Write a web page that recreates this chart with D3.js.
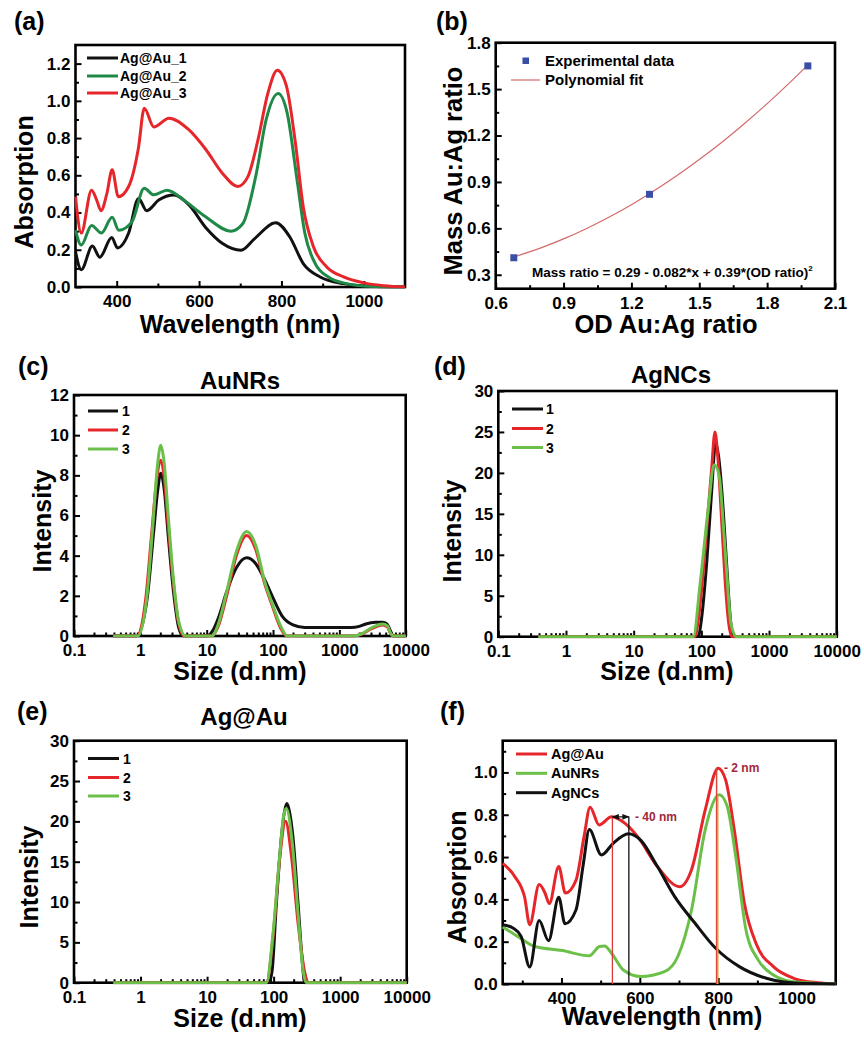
<!DOCTYPE html>
<html><head><meta charset="utf-8">
<script src="https://cdn.jsdelivr.net/npm/d3@7"></script>
<style>body{margin:0;background:#fff}</style>
</head><body>
<svg id="c" width="864" height="1037" xmlns="http://www.w3.org/2000/svg"></svg>
<script>
// ---------- DATA ----------
// (a) UV-vis of Ag@Au samples
const waveA1 = [300,314,341,359,388,402,429,453,473,502,539,576,616,657,702,735,786,820,853,894,951,1000,1100];
const absA1  = [0.19,0.093,0.22,0.16,0.266,0.21,0.29,0.476,0.41,0.467,0.494,0.44,0.32,0.234,0.198,0.26,0.345,0.27,0.126,0.054,0.018,0.006,0];
const waveA2 = [300,314,339,363,389,405,437,467,490,522,567,616,677,706,739,763,792,814,837,857,882,914,959,1008,1100];
const absA2  = [0.305,0.225,0.33,0.29,0.375,0.305,0.35,0.53,0.495,0.52,0.46,0.377,0.30,0.34,0.61,0.90,1.04,0.934,0.59,0.287,0.126,0.054,0.018,0.004,0];
const waveA3 = [300,314,339,351,362,376,389,404,429,453,467,490,527,575,616,657,694,718,743,767,790,812,833,853,878,910,951,1000,1049,1100];
const absA3  = [0.485,0.29,0.52,0.47,0.41,0.50,0.63,0.485,0.54,0.75,0.96,0.86,0.907,0.845,0.74,0.61,0.54,0.59,0.79,1.04,1.164,1.08,0.79,0.43,0.215,0.108,0.054,0.022,0.007,0];
const seriesA = ["Ag@Au_1","Ag@Au_2","Ag@Au_3"];

// (b) mass ratio vs OD ratio
const odRatio   = [0.68, 1.28, 1.98];
const massRatio = [0.41, 0.82, 1.65];
const fitX = [0.68,0.8,0.9,1.0,1.1,1.2,1.3,1.4,1.5,1.6,1.7,1.8,1.9,1.98];
const fitY = [0.415,0.474,0.532,0.598,0.672,0.753,0.843,0.940,1.045,1.157,1.278,1.406,1.542,1.657];
const legendB = ["Experimental data","Polynomial fit"];
const equationB = "Mass ratio = 0.29 - 0.082*x + 0.39*(OD ratio)";

// (c) DLS AuNRs
const sizeC1 = [0.39,0.88,1.26,1.58,1.82,2.03,2.29,2.63,3.16,3.8,4.47,10,12,15,20,28,40,55,75,100,140,200,300,1500,2000,2500,3500,4500,5200,6000,6500,10000];
const intC1  = [0,0,1.8,5.1,7.2,8.1,7.3,5.0,2.2,0.4,0,0,0.2,0.9,2.2,3.4,3.9,3.6,2.8,1.9,0.95,0.55,0.42,0.42,0.48,0.6,0.68,0.68,0.6,0.2,0,0];
const sizeC2 = [0.39,0.88,1.2,1.5,1.78,2.03,2.29,2.63,3.16,3.8,4.6,12,15,20,28,40,55,75,100,130,160,1600,2200,3000,4500,5300,6000,6500,10000];
const intC2  = [0,0,1.8,5.3,7.9,8.75,7.9,5.5,2.6,0.6,0,0,0.5,2.0,4.0,5.0,4.3,2.6,1.4,0.4,0,0,0.1,0.35,0.55,0.45,0.1,0,0];
const sizeC3 = [0.39,0.92,1.25,1.55,1.8,2.03,2.29,2.63,3.16,3.8,4.8,12,15,20,28,40,55,75,100,130,165,1600,2200,3000,4500,5300,6000,6600,10000];
const intC3  = [0,0,1.9,5.6,8.4,9.5,8.6,6.0,2.8,0.7,0,0,0.6,2.2,4.2,5.2,4.5,2.7,1.5,0.5,0,0,0.12,0.4,0.6,0.5,0.1,0,0];

// (d) DLS AgNCs
const sizeD1 = [0.39,90,100,120,140,163,180,200,236,270,295,10000];
const intD1  = [0,0,2,9,17,23.6,22,18,9,2,0,0];
const sizeD2 = [0.39,80,90,107,125,142,159,175,200,224,255,280,10000];
const intD2  = [0,0,2,8.1,15,20.5,25,22,14,7,1.5,0,0];
const sizeD3 = [0.39,76,96,126,155,185,210,236,275,330,10000];
const intD3  = [0,0,6.5,15.5,21,19.5,14,8.1,1.5,0,0];

// (e) DLS Ag@Au
const sizeE1 = [0.39,85,95,110,134,159,175,195,233,276,290,10000];
const intE1  = [0,0,1.5,9.8,18.9,22.2,21,18.1,9.8,1.6,0,0];
const sizeE2 = [0.39,78,98,124,151,186,233,295,330,10000];
const intE2  = [0,0,5.7,15.6,20,15.6,7.4,1.2,0,0];
const sizeE3 = [0.39,78,98,124,142,155,191,233,276,310,10000];
const intE3  = [0,0,6.1,16,20.8,21.6,17.3,8.6,1.6,0,0];
const seriesDLS = ["1","2","3"];

// (f) UV-vis comparison
const waveF1 = [250,280,306,319,343,358,369,393,410,437,458,473,496,528,554,593,645,702,732,767,800,819,841,867,897,941,993,1054,1100];
const absF1  = [0.57,0.51,0.41,0.28,0.47,0.43,0.38,0.555,0.43,0.49,0.70,0.836,0.752,0.79,0.77,0.70,0.555,0.46,0.54,0.823,1.02,0.965,0.73,0.38,0.19,0.082,0.027,0.006,0];
const waveF2 = [250,289,332,402,471,497,510,528,558,602,663,697,732,767,803,823,845,871,902,941,993,1100];
const absF2  = [0.27,0.224,0.177,0.158,0.133,0.177,0.18,0.145,0.066,0.035,0.058,0.13,0.35,0.73,0.894,0.84,0.60,0.255,0.114,0.043,0.011,0];
const waveF3 = [250,276,297,319,343,367,393,409,437,456,471,502,532,571,602,645,689,741,793,854,923,1010,1100];
const absF3  = [0.28,0.265,0.225,0.08,0.30,0.205,0.41,0.285,0.35,0.57,0.73,0.61,0.665,0.71,0.68,0.555,0.413,0.287,0.17,0.082,0.027,0.003,0];
const seriesF = ["Ag@Au","AuNRs","AgNCs"];
const shiftLines = [530, 572];        // nm, -40 nm shift
const shiftLevel = 0.79;
const peakLines = [{nm:796, top:1.02}, {nm:799, top:0.89}];
const shiftLabels = ["- 40 nm", "- 2 nm"];

// ---------- DRAWING ----------
const svg = d3.select("#c");
const FONT = "'Liberation Sans', Arial, Helvetica, sans-serif";
const BLACK = "#111111", RED = "#e5262a", DGREEN = "#1f8a47", LGREEN = "#6cc04a";
const defs = svg.append("defs");

function text(x, y, s, size, opt = {}) {
  const t = svg.append("text").attr("x", x).attr("y", y).text(s)
    .attr("font-family", opt.family || FONT).attr("font-size", size)
    .attr("font-weight", opt.weight || "bold").attr("fill", opt.fill || "#000")
    .attr("text-anchor", opt.anchor || "start");
  if (opt.rotate) t.attr("transform", `rotate(-90,${x},${y})`);
  return t;
}

function panel(cfg) {
  const {L, T, R, B} = cfg;
  const x = (cfg.xlog ? d3.scaleLog() : d3.scaleLinear()).domain(cfg.xd).range([L, R]);
  const y = d3.scaleLinear().domain(cfg.yd).range([B, T]);
  const g = svg.append("g");
  // minor ticks
  g.append("g").attr("transform", `translate(0,${B})`)
    .call(d3.axisBottom(x).tickValues(cfg.xMin).tickSizeInner(-3.5).tickSizeOuter(0).tickFormat(""))
    .call(a => a.select(".domain").remove());
  g.append("g").attr("transform", `translate(${L},0)`)
    .call(d3.axisLeft(y).tickValues(cfg.yMin).tickSizeInner(-3.5).tickSizeOuter(0).tickFormat(""))
    .call(a => a.select(".domain").remove());
  // major ticks
  g.append("g").attr("transform", `translate(0,${B})`)
    .call(d3.axisBottom(x).tickValues(cfg.xMaj).tickSizeInner(-6).tickSizeOuter(0).tickPadding(8).tickFormat(cfg.xFmt))
    .call(a => a.select(".domain").remove());
  g.append("g").attr("transform", `translate(${L},0)`)
    .call(d3.axisLeft(y).tickValues(cfg.yMaj).tickSizeInner(-6).tickSizeOuter(0).tickPadding(5).tickFormat(cfg.yFmt))
    .call(a => a.select(".domain").remove());
  g.selectAll(".tick line").attr("stroke", "#000").attr("stroke-width", 2);
  g.selectAll(".tick text").attr("font-family", FONT).attr("font-size", 17).attr("font-weight", "bold").attr("fill", "#000");
  // frame
  g.append("rect").attr("x", L).attr("y", T).attr("width", R - L).attr("height", B - T)
    .attr("fill", "none").attr("stroke", "#000").attr("stroke-width", 2.6);
  const id = "clip" + cfg.id;
  defs.append("clipPath").attr("id", id).append("rect")
    .attr("x", L - 1).attr("y", T - 1).attr("width", R - L + 2).attr("height", B - T + 2.5);
  const plot = svg.append("g").attr("clip-path", `url(#${id})`);
  return {x, y, plot};
}

function drawLine(p, xs, ys, color, w = 3) {
  const pts = xs.map((v, i) => [v, ys[i]]);
  p.plot.append("path").datum(pts)
    .attr("d", d3.line().x(d => p.x(d[0])).y(d => p.y(d[1])).curve(d3.curveMonotoneX))
    .attr("fill", "none").attr("stroke", color).attr("stroke-width", w).attr("stroke-linejoin", "round");
}

function legend(x0, x1, tx, ys, labels, colors, size) {
  labels.forEach((l, i) => {
    svg.append("line").attr("x1", x0).attr("x2", x1).attr("y1", ys[i]).attr("y2", ys[i])
      .attr("stroke", colors[i]).attr("stroke-width", 3);
    text(tx, ys[i] + 5, l, size);
  });
}

const f1 = d3.format(".1f");
const logFmt = d => d < 1 ? "0.1" : d3.format("d")(d);
const logMaj = [0.1, 1, 10, 100, 1000, 10000];
const logMin = [];
[0.1, 1, 10, 100, 1000].forEach(dec => { for (let k = 2; k <= 9; k++) logMin.push(dec * k); });

// ---- (a) ----
{
  const p = panel({id: "a", L: 75.5, T: 45, R: 405, B: 287, xd: [300, 1100], yd: [0, 1.3],
    xMaj: [400, 600, 800, 1000], xMin: [500, 700, 900], yMaj: d3.range(0, 1.21, 0.2), yMin: d3.range(0.1, 1.3, 0.2),
    xFmt: d3.format("d"), yFmt: f1});
  drawLine(p, waveA1, absA1, BLACK);
  drawLine(p, waveA2, absA2, DGREEN);
  drawLine(p, waveA3, absA3, RED);
  legend(87, 118, 120, [58, 76, 93], seriesA, [BLACK, DGREEN, RED], 14);
  text(14, 30, "(a)", 25);
  text(33, 182, "Absorption", 25, {anchor: "middle", rotate: true});
  text(240, 333, "Wavelength (nm)", 25, {anchor: "middle"});
}

// ---- (b) ----
{
  const p = panel({id: "b", L: 495.7, T: 42.7, R: 835, B: 288.7, xd: [0.6, 2.1], yd: [0.21, 1.8],
    xMaj: [0.6, 0.9, 1.2, 1.5, 1.8, 2.1], xMin: [0.75, 1.05, 1.35, 1.65, 1.95],
    yMaj: [0.3, 0.6, 0.9, 1.2, 1.5, 1.8], yMin: [0.45, 0.75, 1.05, 1.35, 1.65],
    xFmt: f1, yFmt: f1});
  const pts = fitX.map((v, i) => [v, fitY[i]]);
  p.plot.append("path").datum(pts)
    .attr("d", d3.line().x(d => p.x(d[0])).y(d => p.y(d[1])).curve(d3.curveCatmullRom))
    .attr("fill", "none").attr("stroke", "#d46a6a").attr("stroke-width", 1.2);
  p.plot.selectAll("rect.pt").data(odRatio).enter().append("rect")
    .attr("x", d => p.x(d) - 3.5).attr("y", (d, i) => p.y(massRatio[i]) - 3.5)
    .attr("width", 7).attr("height", 7).attr("fill", "#3a4ea6");
  svg.append("rect").attr("x", 522.5).attr("y", 57.5).attr("width", 6.5).attr("height", 6.5).attr("fill", "#3a4ea6");
  text(545, 66, legendB[0], 15);
  svg.append("line").attr("x1", 511).attr("x2", 540).attr("y1", 80).attr("y2", 80).attr("stroke", "#d46a6a").attr("stroke-width", 1.2);
  text(545, 85, legendB[1], 15);
  const eq = text(532, 277, equationB, 13.5);
  eq.append("tspan").attr("dy", -6).attr("font-size", 8).text("2");
  text(436, 30, "(b)", 25);
  text(462, 171, "Mass Au:Ag ratio", 25.5, {anchor: "middle", rotate: true});
  text(666, 333, "OD Au:Ag ratio", 25.5, {anchor: "middle"});
}

// ---- (c) ----
{
  const p = panel({id: "c", L: 74, T: 395, R: 405.7, B: 636, xlog: true, xd: [0.1, 10000], yd: [0, 12],
    xMaj: logMaj, xMin: logMin, yMaj: d3.range(0, 12.1, 2), yMin: d3.range(1, 12, 2),
    xFmt: logFmt, yFmt: d3.format("d")});
  drawLine(p, sizeC1, intC1, BLACK);
  drawLine(p, sizeC2, intC2, RED);
  drawLine(p, sizeC3, intC3, LGREEN);
  legend(88, 118, 122, [411, 430, 449], seriesDLS, [BLACK, RED, LGREEN], 14);
  text(18, 375, "(c)", 25);
  text(240, 389, "AuNRs", 24, {anchor: "middle"});
  text(51, 521, "Intensity", 25, {anchor: "middle", rotate: true});
  text(240, 680, "Size (d.nm)", 25, {anchor: "middle"});
}

// ---- (d) ----
{
  const p = panel({id: "d", L: 498.3, T: 391, R: 836.7, B: 636.7, xlog: true, xd: [0.1, 10000], yd: [0, 30],
    xMaj: logMaj, xMin: logMin, yMaj: d3.range(0, 30.1, 5), yMin: d3.range(2.5, 30, 5),
    xFmt: logFmt, yFmt: d3.format("d")});
  drawLine(p, sizeD1, intD1, BLACK);
  drawLine(p, sizeD2, intD2, RED);
  drawLine(p, sizeD3, intD3, LGREEN);
  legend(512, 543, 546, [409, 428.5, 447.5], seriesDLS, [BLACK, RED, LGREEN], 14);
  text(434, 375, "(d)", 25);
  text(671, 383, "AgNCs", 24, {anchor: "middle"});
  text(461, 531, "Intensity", 25, {anchor: "middle", rotate: true});
  text(667, 680, "Size (d.nm)", 25, {anchor: "middle"});
}

// ---- (e) ----
{
  const p = panel({id: "e", L: 74, T: 740.7, R: 406.7, B: 982.7, xlog: true, xd: [0.1, 10000], yd: [0, 30],
    xMaj: logMaj, xMin: logMin, yMaj: d3.range(0, 30.1, 5), yMin: d3.range(2.5, 30, 5),
    xFmt: logFmt, yFmt: d3.format("d")});
  drawLine(p, sizeE1, intE1, BLACK);
  drawLine(p, sizeE2, intE2, RED);
  drawLine(p, sizeE3, intE3, LGREEN);
  legend(88, 119, 123, [758.5, 777.5, 796], seriesDLS, [BLACK, RED, LGREEN], 14);
  text(17, 720, "(e)", 25);
  text(244, 725, "Ag@Au", 24, {anchor: "middle"});
  text(38, 877, "Intensity", 25, {anchor: "middle", rotate: true});
  text(240, 1027, "Size (d.nm)", 25, {anchor: "middle"});
}

// ---- (f) ----
{
  const p = panel({id: "f", L: 502.7, T: 740.7, R: 835.7, B: 984, xd: [250, 1100], yd: [0, 1.15],
    xMaj: [400, 600, 800, 1000], xMin: [300, 500, 700, 900], yMaj: d3.range(0, 1.01, 0.2), yMin: d3.range(0.1, 1.15, 0.2),
    xFmt: d3.format("d"), yFmt: f1});
  drawLine(p, waveF1, absF1, RED);
  drawLine(p, waveF2, absF2, LGREEN);
  drawLine(p, waveF3, absF3, BLACK);
  // marker lines
  const vcol = ["#d93a3a", "#111"];
  shiftLines.forEach((nm, i) => {
    p.plot.append("line").attr("x1", p.x(nm)).attr("x2", p.x(nm)).attr("y1", p.y(0)).attr("y2", p.y(shiftLevel))
      .attr("stroke", vcol[i]).attr("stroke-width", 1.3);
  });
  const pcol = ["#d9463a", "#d8a040"];
  peakLines.forEach((d, i) => {
    p.plot.append("line").attr("x1", p.x(d.nm)).attr("x2", p.x(d.nm)).attr("y1", p.y(0)).attr("y2", p.y(d.top))
      .attr("stroke", pcol[i]).attr("stroke-width", 1.5);
  });
  defs.append("marker").attr("id", "arr").attr("viewBox", "0 0 10 10").attr("refX", 9).attr("refY", 5)
    .attr("markerWidth", 6).attr("markerHeight", 6).attr("orient", "auto-start-reverse")
    .append("path").attr("d", "M0,1 L10,5 L0,9 Z").attr("fill", "#111");
  svg.append("line").attr("x1", p.x(shiftLines[0])).attr("x2", p.x(shiftLines[1]))
    .attr("y1", p.y(shiftLevel)).attr("y2", p.y(shiftLevel)).attr("stroke", "#111").attr("stroke-width", 1.2)
    .attr("marker-start", "url(#arr)").attr("marker-end", "url(#arr)");
  text(635, 821, shiftLabels[0], 12, {fill: "#a0283c"});
  text(724, 772, shiftLabels[1], 12, {fill: "#a0283c"});
  legend(516, 547, 551, [754, 773.3, 792.7], seriesF, [RED, LGREEN, BLACK], 14.5);
  text(440, 720, "(f)", 25);
  text(466, 877, "Absorption", 25, {anchor: "middle", rotate: true});
  text(662, 1025, "Wavelength (nm)", 25, {anchor: "middle"});
}
</script>
</body></html>
